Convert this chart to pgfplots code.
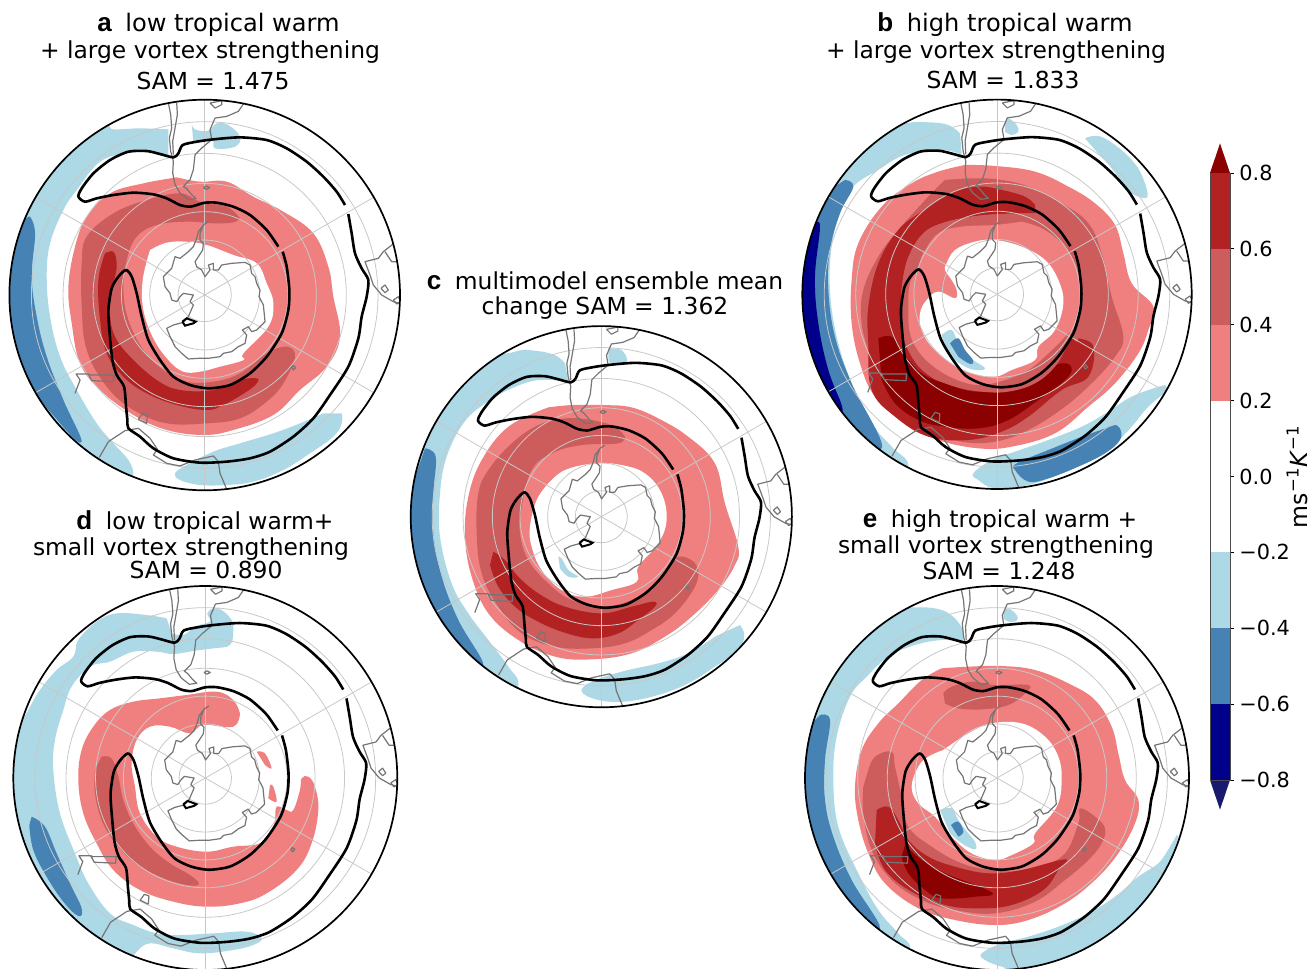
\documentclass[border=0pt]{standalone}
\usepackage{fontspec}
\setmainfont{DejaVu Sans}
\newfontfamily\lab{Liberation Sans}
\usepackage{pgfplots}
\usepackage{pgfplotstable}
\pgfplotsset{compat=1.18}
\definecolor{LC}{HTML}{F08080}
\definecolor{IR}{HTML}{CD5C5C}
\definecolor{FB}{HTML}{B22222}
\definecolor{DR}{HTML}{8B0000}
\definecolor{LB}{HTML}{ADD8E6}
\definecolor{SB}{HTML}{4682B4}
\definecolor{DB}{HTML}{00008B}
\definecolor{MB}{HTML}{191970}
\definecolor{coast}{HTML}{757575}
\definecolor{gr}{HTML}{C8C8C8}
% shared map curves, in the pixels of panel a (centre 614 615, radius 586)
\pgfplotstableread[row sep=\\]{x y\\107 322\\1121 908\\}\tGa
\pgfplotstableread[row sep=\\]{x y\\107 908\\1121 322\\}\tGb
\pgfplotstableread[row sep=\\]{x y\\614 29\\614 1201\\}\tGc
\pgfplotstableread[row sep=\\]{x y\\505 39\\512 74\\515 114\\508 144\\512 184\\520 214\\518 249\\525 284\\540 309\\565 329\\588 326\\575 314\\560 296\\550 289\\570 269\\580 239\\585 194\\605 174\\635 149\\630 119\\645 84\\680 79\\715 64\\732 39\\}\tSA
\pgfplotstableread[row sep=\\]{x y\\530 39\\532 74\\525 114\\518 154\\520 194\\}\tSB
\pgfplotstableread[row sep=\\]{x y\\630 39\\665 32\\665 44\\645 54\\630 39\\}\tLK
\pgfplotstableread[row sep=\\]{x y\\610 293\\619 288\\629 293\\619 298\\610 293\\}\tFK
\pgfplotstableread[row sep=\\]{x y\\625 395\\610 405\\600 430\\600 450\\610 460\\608 480\\595 500\\585 515\\590 530\\605 540\\615 560\\630 540\\625 525\\640 520\\640 540\\655 540\\665 525\\695 520\\735 517\\750 525\\755 550\\765 560\\770 580\\780 600\\777 620\\790 645\\795 695\\770 720\\755 725\\745 710\\727 720\\740 735\\735 760\\715 770\\695 785\\670 790\\660 800\\625 805\\595 805\\565 807\\545 790\\525 770\\510 740\\500 715\\520 705\\550 697\\565 680\\580 645\\570 635\\580 615\\550 610\\540 620\\530 635\\515 630\\510 610\\495 590\\490 560\\505 545\\515 535\\525 500\\540 505\\565 485\\580 470\\590 445\\595 425\\610 405\\}\tAN
\pgfplotstableread[row sep=\\]{x y\\225 910\\240 870\\228 852\\265 852\\275 872\\340 875\\342 855\\270 855\\265 852\\}\tNZ
\pgfplotstableread[row sep=\\]{x y\\415 988\\428 970\\442 975\\440 1000\\415 988\\}\tTS
\pgfplotstableread[row sep=\\]{x y\\298 1102\\325 1055\\375 1022\\415 1015\\450 1045\\472 1078\\460 1095\\500 1120\\540 1128\\585 1110\\640 1098\\655 1115\\660 1150\\680 1198\\}\tAU
\pgfplotstableread[row sep=\\]{x y\\1182 460\\1150 485\\1135 505\\1095 515\\1110 555\\1120 585\\1145 615\\1180 635\\1200 640\\}\tAF
\pgfplotstableread[row sep=\\]{x y\\1143 595\\1155 585\\1165 600\\1155 608\\1143 595\\}\tLa
\pgfplotstableread[row sep=\\]{x y\\1180 630\\1195 620\\1202 635\\1190 642\\1180 630\\}\tLb
\pgfplotstableread[row sep=\\]{x y\\1155 485\\1175 515\\1200 515\\}\tLc
\pgfplotstableread[row sep=\\]{x y\\875 833\\880 827\\887 833\\880 840\\875 833\\}\tIS
\pgfplotstableread[row sep=\\]{x y\\547 695\\560 685\\587 695\\580 700\\555 707\\547 695\\}\tRS
\pgfplotstableread[row sep=\\]{x y\\835 470\\800 420\\750 375\\700 350\\650 338\\615 338\\590 345\\570 350\\540 345\\500 325\\460 313\\400 308\\340 315\\290 325\\255 335\\235 320\\245 295\\280 250\\330 210\\385 185\\440 183\\480 192\\520 202\\535 190\\548 165\\590 155\\640 148\\720 142\\800 150\\860 175\\920 215\\970 260\\1010 305\\1035 345\\}\tJa
\pgfplotstableread[row sep=\\]{x y\\1045 372\\1055 430\\1065 490\\1085 535\\1105 570\\1100 620\\1085 680\\1075 745\\1045 830\\990 915\\940 985\\880 1040\\810 1085\\750 1105\\680 1115\\600 1118\\520 1105\\460 1075\\420 1040\\385 1015\\382 990\\378 950\\372 890\\350 855\\337 810\\328 720\\325 660\\335 595\\355 560\\378 540\\395 560\\410 610\\425 680\\445 750\\480 810\\520 860\\570 885\\625 895\\690 885\\750 850\\800 800\\845 730\\865 660\\868 600\\860 530\\848 485\\}\tJb
\pgfplotsset{
  table/base/.style={x expr=\zx+(\thisrow{x}-614)/586*\zr, y expr=\zy+(\thisrow{y}-615)/586*\zr},
  fl/.style={fill=#1,draw=none,smooth,tension=0.65},
  cst/.style={coast,line width=0.6pt,line join=round},
  jet/.style={black,line width=1.3pt,line join=round,smooth,tension=0.45},
}
\newcommand\rr[1]{\draw[gr,line width=0.4pt] (axis cs:\zx,\zy) circle[radius={#1/586*\zr}];}
\newcommand\basemap{%
  \rr{80}\rr{165}\rr{250}\rr{335}\rr{425}\rr{520}%
  \addplot[gr,line width=0.4pt] table[base]{\tGa};
  \addplot[gr,line width=0.4pt] table[base]{\tGb};
  \addplot[gr,line width=0.4pt] table[base]{\tGc};
  \addplot[cst] table[base]{\tSA};
  \addplot[cst] table[base]{\tSB};
  \addplot[cst] table[base]{\tLK};
  \addplot[cst] table[base]{\tFK};
  \addplot[cst] table[base]{\tAN};
  \addplot[cst] table[base]{\tNZ};
  \addplot[cst] table[base]{\tTS};
  \addplot[cst] table[base]{\tAU};
  \addplot[cst] table[base]{\tAF};
  \addplot[cst] table[base]{\tLa};
  \addplot[cst] table[base]{\tLb};
  \addplot[cst] table[base]{\tLc};
  \addplot[cst] table[base]{\tIS};
  \addplot[black,line width=1pt] table[base]{\tRS};
  \addplot[jet] table[base]{\tJa};
  \addplot[jet] table[base]{\tJb};
}
% #1 #2 centre in picture pixels, #3 radius in picture pixels, #4 #5 #6 centre and radius in panel pixels
\newcommand\openpanel[6]{%
  \def\pcx{#1}\def\pcy{#2}\def\pr{#3}%
  \def\zx{#4}\def\zy{#5}\def\zr{#6}%
  \begin{scope}
  \clip ({#1*0.5pt},{-#2*0.5pt}) circle[radius={#3*0.5pt}];
  \begin{axis}[hide axis,scale only axis,anchor=center,
    at={({#1*0.5pt},{-#2*0.5pt})},
    width={#3*1pt},height={#3*1pt},
    xmin={#4-#6},xmax={#4+#6},ymin={#5-#6},ymax={#5+#6},y dir=reverse]
}
\newcommand\closepanel{%
  \basemap
  \end{axis}
  \end{scope}
  \draw[black,line width=0.85pt] ({\pcx*0.5pt},{-\pcy*0.5pt}) circle[radius={\pr*0.5pt}];
}
\newcommand\T[3]{\node[anchor=base,inner sep=0pt] at ({#1*0.5pt},{-#2*0.5pt}) {\fontsize{11.7}{14}\selectfont #3};}
\newcommand\Tb[3]{\node[anchor=base,inner sep=0pt] at ({#1*0.5pt},{-#2*0.5pt}) {\fontsize{12.05}{14}\selectfont #3};}
\newcommand\B[1]{{\lab\bfseries\fontsize{13}{14}\selectfont #1}\hspace{6.8pt}}
\begin{document}
\begin{tikzpicture}
\useasboundingbox (0pt,0pt) rectangle (656.5pt,-484.5pt);
% ---------- a
\openpanel{204.7}{295}{195.3}{614}{615}{586}
\addplot[fl=LB] coordinates {(505,118)(420,115)(340,118)(290,110)(60,300)(-10,615)(100,950)(300,1200)(385,1165)(400,1150)(385,1110)(340,1060)(290,1000)(230,900)(180,800)(150,680)(140,560)(150,460)(190,360)(230,300)(300,215)(380,190)(440,185)(505,200)};
\addplot[fl=LB] coordinates {(575,100)(585,118)(625,122)(650,100)(685,105)(720,140)(705,170)(645,175)(635,150)(580,158)};
\addplot[fl=LB] coordinates {(1025,970)(1025,1000)(1000,1040)(930,1090)(850,1140)(760,1175)(680,1185)(600,1185)(540,1170)(525,1150)(560,1125)(640,1085)(720,1060)(820,1030)(900,1000)(970,970)};
\addplot[fl=SB] coordinates {(90,380)(105,430)(95,560)(110,680)(140,800)(190,930)(245,1055)(180,1000)(30,800)(0,615)(30,450)(85,380)};
\addplot[fl=LC] coordinates {(530,262)(600,275)(680,275)(760,320)(850,365)(940,430)(985,530)(1000,620)(1020,740)(980,830)(900,900)(820,975)(700,1020)(610,1035)(500,1020)(400,975)(300,900)(240,820)(215,700)(205,590)(225,470)(260,380)(330,310)(430,280)(530,262)};
\addplot[fl=white] coordinates {(450,480)(500,458)(560,455)(620,465)(700,495)(770,520)(800,580)(820,640)(805,710)(730,790)(730,810)(660,830)(600,845)(550,845)(505,810)(460,745)(430,660)(428,570)(450,480)};
\addplot[fl=IR] coordinates {(720,385)(680,350)(600,335)(540,310)(440,330)(340,370)(260,440)(245,520)(245,650)(260,780)(320,890)(400,960)(500,1000)(620,1000)(720,985)(800,935)(850,880)(885,800)(860,770)(800,790)(720,850)(640,875)(560,875)(490,840)(430,780)(385,690)(370,600)(380,510)(410,440)(470,405)(560,395)(640,400)(700,397)(720,385)};
\addplot[fl=FB] coordinates {(315,490)(340,485)(350,520)(345,560)(330,620)(330,680)(345,740)(390,800)(470,870)(540,900)(640,900)(720,870)(770,865)(770,880)(740,905)(670,945)(620,960)(530,945)(440,910)(370,860)(320,790)(300,690)(295,570)(315,490)};
\closepanel
% ---------- b
\openpanel{997}{294.3}{194.7}{606}{613}{584}
\addplot[fl=LB] coordinates {(495,130)(460,105)(400,97)(330,100)(200,130)(0,400)(0,800)(300,1200)(340,1125)(290,1070)(230,1000)(170,880)(125,740)(105,600)(110,470)(135,370)(175,290)(250,240)(330,195)(440,180)(500,195)};
\addplot[fl=SB] coordinates {(150,270)(175,290)(135,370)(105,480)(100,600)(120,740)(170,880)(260,1075)(100,1000)(-20,600)(50,350)(110,295)};
\addplot[fl=DB] coordinates {(50,415)(75,405)(60,560)(70,700)(100,840)(140,945)(130,950)(50,800)(0,600)(20,450)};
\addplot[fl=LB] coordinates {(870,145)(910,138)(960,165)(1010,210)(1040,255)(1058,318)(1030,320)(1000,300)(950,235)(900,180)};
\addplot[fl=LB] coordinates {(630,100)(640,85)(665,105)(670,125)(650,135)(630,125)};
\addplot[fl=LB] coordinates {(1110,885)(1060,900)(1000,925)(940,965)(860,1010)(760,1050)(660,1085)(590,1110)(535,1150)(550,1170)(600,1195)(700,1185)(800,1150)(900,1100)(960,1060)(1010,1010)(1060,950)(1120,900)};
\addplot[fl=SB] coordinates {(960,1005)(975,1015)(975,1050)(930,1090)(850,1130)(760,1165)(700,1175)(660,1140)(665,1120)(760,1080)(860,1040)};
\addplot[fl=LC] coordinates {(510,225)(600,228)(720,245)(820,290)(900,340)(960,405)(985,490)(1010,580)(1075,650)(1060,720)(1030,790)(960,880)(880,950)(780,1030)(650,1070)(550,1075)(430,1050)(330,1000)(240,920)(195,820)(170,700)(170,570)(190,460)(260,350)(350,280)(430,245)(510,225)};
\addplot[fl=IR] coordinates {(450,270)(540,265)(620,270)(700,290)(800,340)(880,400)(920,490)(950,620)(985,740)(960,800)(900,870)(810,950)(700,1020)(600,1055)(500,1055)(400,1020)(310,960)(250,890)(225,800)(200,700)(205,600)(250,500)(310,420)(400,320)(450,270)};
\addplot[fl=FB] coordinates {(720,345)(690,320)(620,300)(550,290)(470,310)(380,365)(310,420)(250,520)(220,650)(220,760)(230,900)(300,980)(400,1040)(520,1050)(620,1025)(700,980)(800,900)(880,860)(895,770)(850,745)(815,745)(780,830)(720,880)(640,905)(500,895)(400,855)(330,760)(318,650)(325,560)(345,490)(385,430)(440,400)(530,380)(620,372)(720,370)};
\addplot[fl=DR] coordinates {(250,745)(290,740)(325,790)(380,850)(450,880)(540,905)(640,895)(720,850)(800,820)(830,835)(810,870)(730,930)(640,990)(550,1015)(450,1010)(370,990)(300,940)(260,870)};
\addplot[fl=IR] coordinates {(720,370)(620,372)(530,380)(440,400)(385,430)(345,490)(325,560)(318,650)(325,730)(350,800)(400,855)(480,890)(560,905)(640,905)(720,880)(780,830)(815,770)(830,745)(850,745)(850,600)(830,470)(780,400)(720,370)};
\addplot[fl=LC] coordinates {(680,395)(600,405)(500,410)(430,430)(385,490)(370,530)(345,580)(340,650)(345,730)(375,790)(430,840)(500,875)(560,885)(630,870)(700,840)(760,790)(810,740)(840,700)(855,600)(840,520)(800,460)(740,415)(680,395)};
\addplot[fl=white] coordinates {(455,520)(480,480)(540,455)(600,450)(680,470)(750,510)(790,570)(805,640)(780,720)(730,770)(720,810)(650,840)(600,860)(530,850)(470,820)(410,770)(380,720)(375,670)(395,630)(430,605)(480,625)(485,600)(470,570)(450,540)(455,520)};
\addplot[fl=LB] coordinates {(440,735)(470,720)(490,760)(520,800)(570,835)(530,838)(480,810)(450,775)};
\addplot[fl=SB] coordinates {(465,760)(490,745)(510,780)(535,812)(525,822)(490,800)};
\closepanel
% ---------- c
\openpanel{601.3}{516.7}{190.6}{589}{590}{572}
\addplot[fl=LB] coordinates {(480,130)(450,105)(390,92)(330,95)(200,150)(0,400)(0,800)(300,1190)(340,1095)(310,1040)(250,960)(190,880)(140,790)(105,650)(105,520)(125,410)(175,310)(240,250)(320,205)(400,180)(490,185)};
\addplot[fl=LB] coordinates {(610,85)(650,90)(665,125)(620,130)(610,115)};
\addplot[fl=LB] coordinates {(1005,915)(1018,945)(1000,990)(930,1040)(850,1090)(760,1125)(660,1145)(580,1140)(530,1115)(560,1085)(650,1055)(760,1030)(850,1000)(930,950)};
\addplot[fl=SB] coordinates {(60,385)(92,410)(85,520)(85,640)(110,770)(160,900)(235,1035)(150,1000)(0,700)(20,500)};
\addplot[fl=LC] coordinates {(430,262)(500,255)(600,255)(680,262)(760,295)(850,350)(930,430)(960,550)(1000,680)(990,735)(940,810)(860,890)(780,950)(680,1000)(560,1018)(450,1010)(340,960)(250,880)(200,770)(180,650)(190,530)(230,420)(310,320)(430,262)};
\addplot[fl=white] coordinates {(430,490)(480,450)(570,430)(650,435)(720,460)(770,520)(785,600)(760,670)(700,740)(695,785)(620,810)(540,830)(470,810)(410,750)(380,680)(375,620)(395,540)(430,490)};
\addplot[fl=LB] coordinates {(460,710)(470,715)(490,750)(520,770)(490,770)(465,745)};
\addplot[fl=IR] coordinates {(660,350)(630,320)(560,300)(480,295)(400,315)(320,370)(250,450)(220,520)(215,640)(230,760)(280,860)(350,940)(450,980)(560,985)(660,970)(740,930)(810,880)(870,800)(878,745)(850,715)(810,715)(770,770)(700,830)(600,860)(500,840)(430,790)(370,720)(345,640)(350,560)(380,450)(440,400)(530,375)(640,370)(660,350)};
\addplot[fl=FB] coordinates {(265,695)(300,720)(340,770)(400,820)(480,860)(590,880)(680,860)(745,845)(750,860)(700,900)(640,940)(560,955)(470,935)(390,900)(330,860)(280,800)(255,735)};
\closepanel
% ---------- d
\openpanel{205.3}{778}{192}{616}{594}{576}
\addplot[fl=LB] coordinates {(500,115)(440,105)(350,100)(290,125)(235,180)(220,230)(170,270)(120,330)(85,390)(0,550)(0,800)(150,1000)(350,1200)(390,1150)(410,1115)(450,1090)(520,1105)(600,1120)(700,1110)(760,1095)(785,1075)(740,1055)(640,1060)(540,1065)(470,1060)(400,1035)(330,1000)(265,910)(225,820)(180,700)(160,570)(165,480)(190,390)(215,320)(270,260)(330,245)(400,215)(470,215)(520,222)(585,212)(640,205)(690,195)(700,150)(695,120)(665,90)(640,85)(622,100)(630,125)(590,138)(550,165)(515,160)};
\addplot[fl=SB] coordinates {(95,710)(135,740)(170,820)(210,910)(245,985)(235,1008)(190,965)(140,890)(100,810)(88,735)};
\addplot[fl=LC] coordinates {(720,400)(700,360)(650,335)(560,345)(480,355)(400,365)(330,390)(280,440)(245,510)(235,600)(250,700)(290,790)(340,870)(420,930)(520,965)(620,980)(720,970)(800,940)(890,870)(935,790)(955,690)(945,620)(925,590)(905,595)(900,630)(880,690)(860,690)(830,680)(825,720)(815,750)(780,790)(700,800)(620,815)(530,800)(470,770)(420,700)(405,620)(395,550)(410,480)(450,440)(510,440)(570,460)(610,435)(700,440)(720,400)};
\addplot[fl=LC] coordinates {(770,515)(795,520)(815,565)(795,555)};
\addplot[fl=LC] coordinates {(810,615)(820,620)(830,665)(805,655)};
\addplot[fl=IR] coordinates {(305,530)(335,535)(355,590)(370,660)(400,730)(450,800)(510,850)(570,885)(597,912)(560,915)(480,890)(400,845)(340,780)(305,720)(285,640)(285,570)};
\closepanel
% ---------- e
\openpanel{997}{778}{192}{606}{594}{576}
\addplot[fl=LB] coordinates {(505,150)(480,115)(440,90)(380,82)(320,90)(200,140)(0,400)(0,800)(300,1180)(345,1105)(310,1060)(250,990)(190,880)(130,740)(115,600)(125,470)(165,350)(215,290)(280,230)(360,195)(440,180)(505,185)};
\addplot[fl=LB] coordinates {(625,95)(640,85)(665,105)(665,122)(640,125)(625,115)};
\addplot[fl=LB] coordinates {(1145,765)(1125,800)(1090,850)(1030,890)(960,950)(880,1000)(790,1040)(700,1070)(620,1090)(560,1120)(570,1140)(620,1160)(700,1180)(850,1150)(1000,1050)(1100,900)(1150,770)};
\addplot[fl=SB] coordinates {(75,405)(105,420)(90,540)(90,660)(115,770)(170,900)(255,1045)(150,1000)(0,700)(20,500)(60,420)};
\addplot[fl=LC] coordinates {(440,265)(520,260)(620,258)(720,270)(820,310)(900,360)(950,440)(970,520)(990,600)(1030,660)(1020,730)(970,820)(900,900)(810,970)(700,1020)(600,1035)(480,1020)(370,985)(270,910)(220,820)(190,720)(180,620)(200,510)(250,430)(310,370)(380,300)(440,265)};
\addplot[fl=white] coordinates {(445,510)(520,460)(590,430)(680,430)(750,470)(790,530)(800,600)(785,680)(720,760)(715,790)(650,825)(600,840)(530,820)(470,770)(420,710)(370,670)(350,620)(370,560)(400,530)(445,510)};
\addplot[fl=LB] coordinates {(435,690)(470,685)(490,720)(520,760)(540,785)(540,808)(500,790)(465,760)};
\addplot[fl=SB] coordinates {(468,735)(490,725)(505,755)(490,770)};
\addplot[fl=IR] coordinates {(445,340)(470,320)(530,305)(600,315)(700,315)(690,340)(640,375)(560,388)(490,385)(450,370)};
\addplot[fl=IR] coordinates {(220,570)(240,530)(290,515)(300,560)(320,650)(340,740)(410,800)(500,850)(590,870)(680,870)(800,830)(850,730)(855,685)(900,710)(930,745)(920,790)(880,840)(810,900)(720,965)(600,1000)(480,990)(380,960)(290,900)(230,810)(205,700)(205,620)};
\addplot[fl=FB] coordinates {(245,690)(280,680)(310,720)(340,780)(400,830)(480,860)(580,880)(680,870)(810,838)(790,870)(745,930)(650,975)(550,985)(450,975)(350,935)(270,870)(240,790)};
\addplot[fl=DR] coordinates {(330,795)(380,840)(450,880)(590,937)(540,950)(440,955)(390,930)(340,880)(320,830)};
\closepanel
% ---------- colour bar
\begin{axis}[scale only axis,anchor=south west,at={(605pt,-390pt)},
  width=10pt,height=303.5pt,xmin=0,xmax=1,ymin=-0.8,ymax=0.8,clip=false,
  xtick=\empty,ytick={-0.8,-0.6,-0.4,-0.2,0,0.2,0.4,0.6,0.8},
  yticklabels={−0.8,−0.6,−0.4,−0.2,0.0,0.2,0.4,0.6,0.8},
  ytick pos=right,yticklabel pos=right,tick align=outside,
  major tick length=2pt,axis line style={black!70,line width=0.4pt},
  tick style={black,line width=0.4pt},
  yticklabel style={font=\fontsize{10.4}{12}\selectfont,inner sep=1pt,xshift=1.5pt},
  ylabel={ms\textsuperscript{−1}\textit{K}\textsuperscript{−1}},
  ylabel style={font=\fontsize{11.8}{12}\selectfont,at={(rel axis cs:4.35,0.5)},anchor=center,rotate=0},
  axis on top]
\addplot[fill=LC,draw=none] coordinates {(0,0.2)(1,0.2)(1,0.4)(0,0.4)};
\addplot[fill=IR,draw=none] coordinates {(0,0.4)(1,0.4)(1,0.6)(0,0.6)};
\addplot[fill=FB,draw=none] coordinates {(0,0.6)(1,0.6)(1,0.8)(0,0.8)};
\addplot[fill=DR,draw=none] coordinates {(0,0.8)(1,0.8)(0.5,0.878)};
\addplot[fill=LB,draw=none] coordinates {(0,-0.2)(1,-0.2)(1,-0.4)(0,-0.4)};
\addplot[fill=SB,draw=none] coordinates {(0,-0.4)(1,-0.4)(1,-0.6)(0,-0.6)};
\addplot[fill=DB,draw=none] coordinates {(0,-0.6)(1,-0.6)(1,-0.8)(0,-0.8)};
\addplot[fill=MB,draw=none] coordinates {(0,-0.8)(1,-0.8)(0.5,-0.878)};
\end{axis}
% ---------- titles
\Tb{218.5}{32}{\B{a}low tropical warm}
\T{210}{58}{+ large vortex strengthening}
\T{213}{89}{SAM = 1.475}
\Tb{1005}{32}{\B{b}high tropical warm}
\T{996}{58}{+ large vortex strengthening}
\T{1003}{88}{SAM = 1.833}
\T{605}{289}{\B{c}multimodel ensemble mean}
\T{605}{314}{change SAM = 1.362}
\T{205}{529}{\B{d}low tropical warm+}
\T{191}{555}{small vortex strengthening}
\T{206}{578}{SAM = 0.890}
\T{1000}{527}{\B{e}high tropical warm +}
\T{996}{553}{small vortex strengthening}
\T{999}{579}{SAM = 1.248}
\end{tikzpicture}
\end{document}
